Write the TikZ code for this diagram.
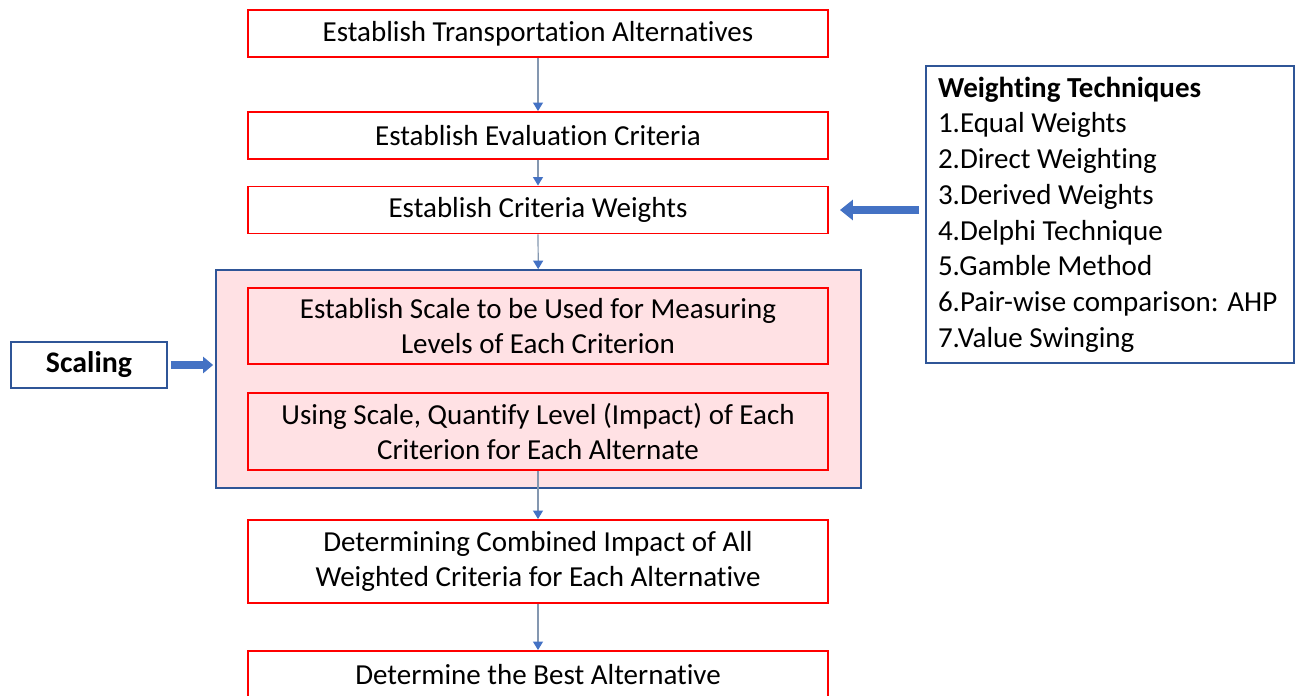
\documentclass[tikz,border=0pt]{standalone}
\usepackage{fontspec}
\setmainfont{Carlito}[Ligatures=NoCommon]
\usetikzlibrary{arrows.meta}

\definecolor{stagered}{HTML}{FF0000}
\definecolor{scalepink}{HTML}{FFE1E4}
\definecolor{frameblue}{HTML}{2F5597}
\definecolor{linegray}{HTML}{8497B0}
\definecolor{tipblue}{HTML}{4472C4}

\begin{document}
\begin{tikzpicture}[>={Triangle[length=0.17cm,width=0.2cm,color=tipblue]},node distance=2cm,
	stage/.style={draw=stagered,line width=1.1pt,fill=white,minimum width=11.6cm,minimum height=0.94cm,inner sep=0pt,align=center,font=\fontsize{16.5}{20}\selectfont},
	stagetall/.style={stage,fill=none,minimum height=1.53cm},
	panel/.style={draw=frameblue,line width=1pt,fill=scalepink,minimum width=12.9cm,minimum height=4.36cm},
	sidebox/.style={draw=frameblue,line width=1pt,fill=white,inner sep=0pt,font=\fontsize{16.5}{20.3}\selectfont},
	fatarrow/.style={draw=tipblue,line width=5pt,-{Triangle[length=0.26cm,width=0.4cm]}}]

\path[use as bounding box,fill=white] (0,0) rectangle (25.92,-13.92);

\node[panel]   (scale)   at (10.77,-7.58)   {};

\node[stage]   (alts)    at (10.76,-0.67)   {Establish Transportation Alternatives};
 \node[stage]  (crit)    [below of=alts,node distance=2.04cm]   {Establish Evaluation Criteria};
	\node[stage]  (wts)   [below of=crit,node distance=1.49cm]   {Establish Criteria Weights};
	\node[stagetall]  (levels)  [below of=wts,node distance=2.32cm]   {Establish Scale to be Used for Measuring\\Levels of Each Criterion};
	\node[stagetall]  (impact)  [below of=levels,node distance=2.11cm]   {Using Scale, Quantify Level (Impact) of Each\\Criterion for Each Alternate};
	\node[stage,minimum height=1.66cm]  (combine)  [below of=impact,node distance=2.6cm]   {Determining Combined Impact of All\\Weighted Criteria for Each Alternative};
	\node[stage,minimum height=0.96cm]  (best)  [below of=combine,node distance=2.27cm]   {Determine the Best Alternative};

\node[sidebox,minimum width=3.12cm,minimum height=0.92cm,font=\fontsize{17}{20}\selectfont\bfseries]   (scaling)   at (1.78,-7.3)   {Scaling};
\node[sidebox,align=flush left,inner xsep=0.24cm,text width=6.88cm,minimum height=5.94cm]   (methods)   at (22.2,-4.29)
	{\textbf{Weighting Techniques}\\1.Equal Weights\\2.Direct Weighting\\3.Derived Weights\\4.Delphi Technique\\5.Gamble Method\\6.Pair-wise comparison: AHP\\7.Value Swinging};

\path[->,draw=linegray,line width=0.7pt] (alts)  edge  (crit)
					(crit) edge  (wts)
					(wts) edge  (scale)
					(impact) edge  (combine)
					(combine) edge  (best);

\draw[fatarrow,shorten <=0.12cm,shorten >=0.22cm] (methods.west |- wts.east) -- (wts.east);
\draw[fatarrow,line width=4pt,-{Triangle[length=0.2cm,width=0.32cm]},shorten <=0.06cm,shorten >=0.04cm] (scaling.east) -- (scaling.east -| scale.west);

\end{tikzpicture}
\end{document}
